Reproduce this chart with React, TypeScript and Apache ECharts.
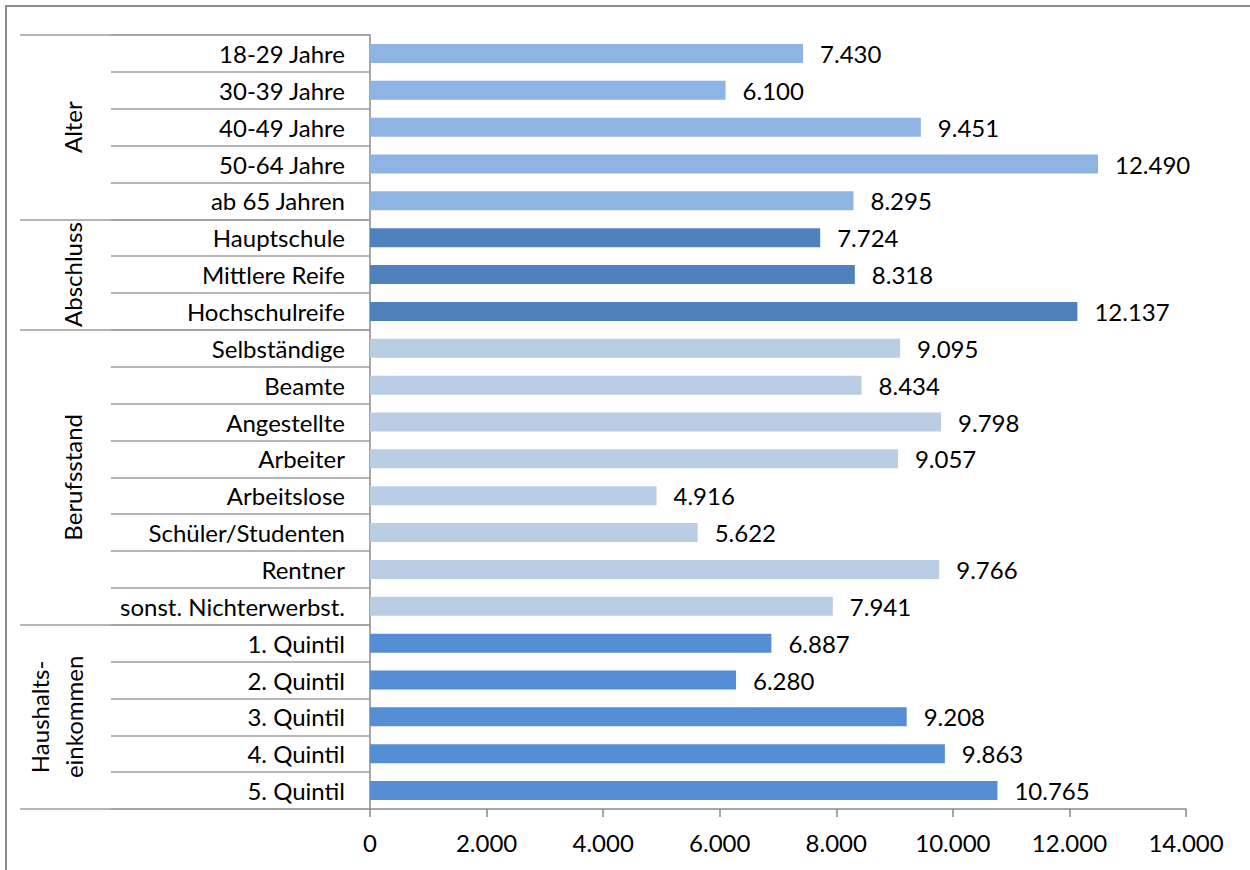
import React, { useEffect, useRef } from "react";
import * as echarts from "echarts";

const categories = [
  "18-29 Jahre", "30-39 Jahre", "40-49 Jahre", "50-64 Jahre", "ab 65 Jahren",
  "Hauptschule", "Mittlere Reife", "Hochschulreife",
  "Selbständige", "Beamte", "Angestellte", "Arbeiter", "Arbeitslose", "Schüler/Studenten", "Rentner", "sonst. Nichterwerbst.",
  "1. Quintil", "2. Quintil", "3. Quintil", "4. Quintil", "5. Quintil",
];
const values = [
  7430, 6100, 9451, 12490, 8295,
  7724, 8318, 12137,
  9095, 8434, 9798, 9057, 4916, 5622, 9766, 7941,
  6887, 6280, 9208, 9863, 10765,
];
const groupNames = ["Alter", "Abschluss", "Berufsstand", "Haushalts-\neinkommen"];
const groupSizes = [5, 3, 8, 5];
const groupColors = ["#8DB4E2", "#4F81BD", "#B9CDE5", "#558ED5"];
const xTicks = { min: 0, max: 14000, interval: 2000 };

const FONT = "Lato";
const FS = 24;

function fmt(v: number): string {
  if (v < 1000) return String(v);
  const th = Math.floor(v / 1000);
  const rest = String(v % 1000).padStart(3, "0");
  return th + "." + rest;
}

export default function App() {
  const ref = useRef<HTMLDivElement>(null);
  useEffect(() => {
    if (!ref.current) return;
    const chart = echarts.init(ref.current, undefined, { renderer: "svg" });
    const groupStarts: number[] = [];
    const itemGroup: number[] = [];
    let acc = 0;
    groupSizes.forEach((n, g) => {
      groupStarts.push(acc);
      for (let i = 0; i < n; i++) itemGroup.push(g);
      acc += n;
    });
    chart.setOption({
      animation: false,
      textStyle: { fontFamily: FONT },
      grid: { left: 370, top: 35, width: 816, height: 774, containLabel: false },
      xAxis: {
        type: "value",
        min: xTicks.min,
        max: xTicks.max,
        interval: xTicks.interval,
        splitLine: { show: false },
        axisLine: { show: true, lineStyle: { color: "#8a8a8a", width: 1.5 } },
        axisTick: { show: true, length: 8, lineStyle: { color: "#8a8a8a", width: 1.5 } },
        axisLabel: { formatter: (v: number) => fmt(v), color: "#000", fontSize: FS, fontFamily: FONT, margin: 21 },
      },
      yAxis: [
        {
          type: "category",
          inverse: true,
          data: categories,
          axisLine: { show: true, lineStyle: { color: "#8a8a8a", width: 1.5 } },
          axisTick: { show: true, length: 259, lineStyle: { color: "#9e9e9e", width: 1.5 } },
          axisLabel: { color: "#000", fontSize: FS, fontFamily: FONT, margin: 25 },
        },
        {
          type: "category",
          inverse: true,
          position: "left",
          data: categories,
          axisLine: { show: false },
          axisTick: {
            show: true,
            length: 350,
            interval: (idx: number) => groupStarts.indexOf(idx) >= 0,
            lineStyle: { color: "#9e9e9e", width: 1.5 },
          },
          axisLabel: { show: false },
        },
      ],
      series: [
        {
          type: "bar",
          yAxisIndex: 0,
          barWidth: 19,
          data: values.map((v, i) => ({ value: v, itemStyle: { color: groupColors[itemGroup[i]] } })),
          label: {
            show: true,
            position: "right",
            distance: 17,
            color: "#000",
            fontSize: FS,
            fontFamily: FONT,
            formatter: (p: any) => fmt(p.value),
          },
        },
      ],
    });
    const graphics: any[] = [
      {
        type: "rect",
        shape: { x: 6, y: 6, width: 1400, height: 1000 },
        style: { fill: "none", stroke: "#8c8c8c", lineWidth: 2 },
        silent: true,
      },
    ];
    groupSizes.forEach((n, g) => {
      const s = groupStarts[g];
      const e = s + n - 1;
      const y1 = chart.convertToPixel({ yAxisIndex: 0 }, categories[s]) as number;
      const y2 = chart.convertToPixel({ yAxisIndex: 0 }, categories[e]) as number;
      const twoLine = groupNames[g].indexOf("\n") >= 0;
      graphics.push({
        type: "text",
        x: twoLine ? 56 : 72,
        y: (y1 + y2) / 2,
        rotation: Math.PI / 2,
        style: {
          text: groupNames[g],
          align: "center",
          verticalAlign: "middle",
          fontSize: FS,
          fontFamily: FONT,
          fill: "#000",
          lineHeight: 34,
        },
      });
    });
    chart.setOption({ graphic: graphics });
    return () => chart.dispose();
  }, []);
  return <div ref={ref} style={{ position: "absolute", left: 0, top: 0, width: 1250, height: 870, background: "#fff" }} />;
}
